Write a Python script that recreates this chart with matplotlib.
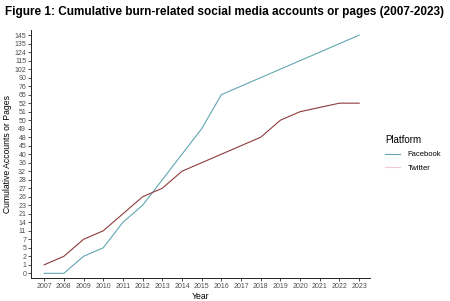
import numpy as np
import matplotlib
matplotlib.use("Agg")
from matplotlib import pyplot as plt
from matplotlib.lines import Line2D

plt.rcParams['font.family'] = ['Liberation Sans', 'DejaVu Sans']

# data
years = list(range(2007, 2024))
facebook = [0, 0, 2, 5, 14, 23, 28, 40, 49, 65, 76, 90, 102, 115, 124, 135, 145]
twitter = [1, 2, 7, 11, 21, 26, 27, 32, 36, 40, 45, 48, 50, 51, 51.5, 52, 52]
# y axis is a discrete scale of the values that occur
levels = [0, 1, 2, 5, 7, 11, 14, 21, 23, 26, 27, 28, 32, 36, 40, 45, 48, 49,
          50, 51, 52, 65, 76, 90, 102, 115, 124, 135, 145]
idx = np.arange(len(levels))

fb_pos = np.interp(facebook, levels, idx)
tw_pos = np.interp(twitter, levels, idx)

W, H = 450, 301
fig = plt.figure(figsize=(4.5, 3.01), dpi=100)
ax = fig.add_axes([31 / W, (H - 278) / H, (370 - 31) / W, (278 - 30) / H])

ax.plot(years, fb_pos, color='#62a7b0', lw=0.8)
ax.plot(years, tw_pos, color='#8e3b3b', lw=0.8)

ax.set_xlim(2006.33, 2023.55)
ax.set_ylim(-0.55, 28.6)
ax.set_xticks(years)
ax.set_xticklabels([str(y) for y in years])
ax.set_yticks(idx)
ax.set_yticklabels([str(v) for v in levels])
ax.tick_params(labelsize=5.0, length=2, width=0.6, pad=1.5, colors='#333333',
               labelcolor='#4d4d4d')
for s in ['top', 'right']:
    ax.spines[s].set_visible(False)
for s in ['left', 'bottom']:
    ax.spines[s].set_linewidth(0.7)
    ax.spines[s].set_color('#222222')

ax.set_xlabel('Year', fontsize=6.2, labelpad=1.5)
ax.set_ylabel('Cumulative Accounts or Pages', fontsize=6.2, labelpad=2)

handles = [Line2D([], [], color='#62a7b0', lw=0.8),
           Line2D([], [], color='#f2c9cf', lw=0.8)]
leg = fig.legend(handles, ['Facebook', 'Twitter'], title='Platform',
                 loc='upper left', bbox_to_anchor=(378 / W, 1 - 128 / H),
                 frameon=False, fontsize=5.5, title_fontsize=7,
                 handlelength=2.0, handletextpad=1.0, labelspacing=0.8)
leg._legend_box.align = 'left'

fig.text(5 / W, 1 - 12 / H,
         'Figure 1: Cumulative burn-related social media accounts or pages (2007-2023)',
         fontsize=8.5, fontweight='bold', va='center', ha='left')

fig.savefig('out.png', dpi=100)
